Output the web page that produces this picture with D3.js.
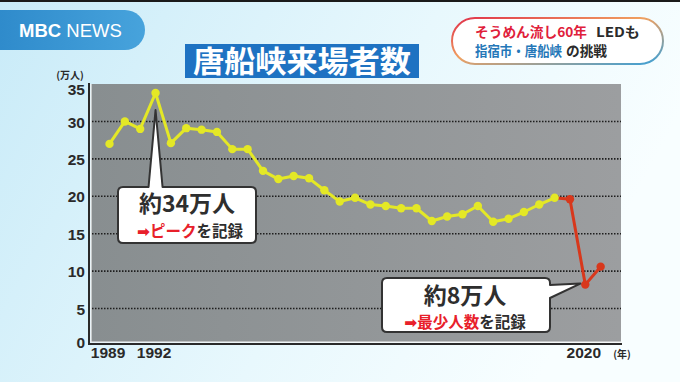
<!DOCTYPE html>
<html><head><meta charset="utf-8">
<script src="https://cdn.jsdelivr.net/npm/d3@7"></script>
<style>html,body{margin:0;padding:0;overflow:hidden;background:#e6f7fd}</style>
</head><body>
<svg id="c" width="680" height="382"></svg>
<script>
const years = d3.range(1989, 2022);
const visitors = [27.0, 30.0, 29.0, 33.8, 27.1, 29.1, 28.9, 28.6, 26.3, 26.3,
  23.4, 22.3, 22.7, 22.4, 20.8, 19.3, 19.8, 18.9, 18.7, 18.4,
  18.4, 16.7, 17.3, 17.6, 18.7, 16.6, 17.0, 17.9, 18.9, 19.8,
  19.6, 8.2, 10.6];
const yTicks = [0, 5, 10, 15, 20, 25, 30, 35];
const gridValues = [5, 10, 15, 20, 25, 30];
const xTickYears = [1989, 1992, 2020];
const redFrom = 2018;
const title = "唐船峡来場者数";
const peakLabel = ["約34万人", "ピーク"];
const lowLabel = ["約8万人", "最少人数"];

const data = years.map((y, i) => ({year: y, v: visitors[i]}));
const svg = d3.select("#c");
const defs = svg.append("defs");

// background
const bg = defs.append("linearGradient").attr("id", "bg").attr("x1", 0).attr("y1", 0).attr("x2", 1).attr("y2", 0.3);
bg.append("stop").attr("offset", 0).attr("stop-color", "#c9ebf8");
bg.append("stop").attr("offset", 0.6).attr("stop-color", "#e8f8fd");
bg.append("stop").attr("offset", 1).attr("stop-color", "#f8feff");
svg.append("rect").attr("width", 680).attr("height", 382).attr("fill", "url(#bg)");
svg.append("rect").attr("width", 680).attr("height", 2).attr("fill", "#1a1a1a");

// MBC pill
const pg = defs.append("linearGradient").attr("id", "pill").attr("x1", 0).attr("x2", 1);
pg.append("stop").attr("offset", 0).attr("stop-color", "#2a86c8");
pg.append("stop").attr("offset", 1).attr("stop-color", "#47a3dc");
svg.append("rect").attr("x", -30).attr("y", 10).attr("width", 175).attr("height", 40).attr("rx", 20).attr("fill", "url(#pill)");
const mbc = svg.append("text").attr("x", 19).attr("y", 37).attr("fill", "#fff")
  .attr("font-family", "Liberation Sans, Arial, sans-serif").attr("font-size", 18.5);
mbc.append("tspan").attr("font-weight", "bold").text("MBC ");
mbc.append("tspan").text("NEWS");

// top-right headline box
const bd = defs.append("linearGradient").attr("id", "bd").attr("x1", 0).attr("y1", 0).attr("x2", 1).attr("y2", 1);
bd.append("stop").attr("offset", 0).attr("stop-color", "#e0304a");
bd.append("stop").attr("offset", 0.45).attr("stop-color", "#f0a060");
bd.append("stop").attr("offset", 1).attr("stop-color", "#3aa0d8");
svg.append("rect").attr("x", 452).attr("y", 18).attr("width", 211).attr("height", 46).attr("rx", 23)
  .attr("fill", "#fff").attr("stroke", "url(#bd)").attr("stroke-width", 2);
const jp = "Noto Sans CJK JP, sans-serif";
function head(xx, yy, w, color, s) {
  svg.append("text").attr("x", xx).attr("y", yy).attr("font-family", jp).attr("font-weight", "bold")
    .attr("font-size", 13.5).attr("fill", color).attr("textLength", w).attr("lengthAdjust", "spacingAndGlyphs").text(s);
}
head(475, 36.5, 112, "#e0203a", "そうめん流し60年");
head(596, 36.5, 44, "#2b2b2b", "LEDも");
head(475, 56, 87, "#2477b8", "指宿市・唐船峡");
head(566, 56, 41, "#2b2b2b", "の挑戦");

// title
svg.append("rect").attr("x", 185).attr("y", 44).attr("width", 234).attr("height", 34).attr("fill", "#1e72c2");
svg.append("text").attr("x", 302).attr("y", 72).attr("text-anchor", "middle").attr("fill", "#fff")
  .attr("font-family", jp).attr("font-weight", "bold").attr("font-size", 30)
  .attr("textLength", 218).attr("lengthAdjust", "spacingAndGlyphs").text(title);

// scales
const x = d3.scaleLinear().domain([1989, 2020]).range([109.5, 585.3]);
const y = d3.scaleLinear().domain([0, 35]).range([346, 84]);
const plotL = 91, plotR = 621, plotT = y(35), plotB = 342;

// plot bg
const pb = defs.append("linearGradient").attr("id", "pb").attr("x1", 0).attr("x2", 1);
pb.append("stop").attr("offset", 0).attr("stop-color", "#888e90");
pb.append("stop").attr("offset", 1).attr("stop-color", "#9c9ea0");
svg.append("rect").attr("x", plotL).attr("y", plotT).attr("width", plotR - plotL).attr("height", plotB - plotT).attr("fill", "url(#pb)");

// grid
svg.append("g").selectAll("line").data(gridValues).join("line")
  .attr("x1", plotL + 1).attr("x2", plotR).attr("y1", d => y(d)).attr("y2", d => y(d))
  .attr("stroke", "#1e1e1e").attr("stroke-width", 1.6).attr("stroke-dasharray", "1.5,1.5");

// axis frame
svg.append("path").attr("d", `M${plotL - 2},${plotT - 1}V${plotB + 2}H${plotR + 1}`)
  .attr("fill", "none").attr("stroke", "#2a2a2a").attr("stroke-width", 2);
svg.append("path").attr("d", `M${plotL},${plotT}V${plotB}H${plotR + 1}`)
  .attr("fill", "none").attr("stroke", "#f4f4f4").attr("stroke-width", 1.2);

// y axis labels
const ya = svg.append("g").attr("transform", `translate(${plotL - 6},0)`)
  .call(d3.axisLeft(y).tickValues(yTicks).tickSize(0).tickPadding(0));
ya.select(".domain").remove();
ya.selectAll(".tick").filter(d => d === 0).attr("transform", `translate(0,${plotB})`);
ya.selectAll(".tick").filter(d => d === 35).attr("transform", `translate(0,${y(35) + 5})`);
ya.selectAll("text").attr("font-family", "Liberation Sans, Arial, sans-serif").attr("font-size", 15.5)
  .attr("font-weight", "bold").attr("fill", "#2a2a2a").attr("dy", "0.36em");
svg.append("text").attr("x", 70).attr("y", 79).attr("text-anchor", "middle").attr("font-family", jp)
  .attr("font-weight", "bold").attr("font-size", 10).attr("fill", "#2a2a2a").text("(万人)");

// x axis labels
const xa = svg.append("g").attr("transform", `translate(-2,${plotB})`)
  .call(d3.axisBottom(x).tickValues(xTickYears).tickFormat(d3.format("d")).tickSize(0).tickPadding(0));
xa.select(".domain").remove();
xa.selectAll("text").attr("font-family", "Liberation Sans, Arial, sans-serif").attr("font-size", 15.5)
  .attr("font-weight", "bold").attr("fill", "#2a2a2a").attr("dy", "1.0em");
svg.append("text").attr("x", 622).attr("y", 358).attr("text-anchor", "middle").attr("font-family", jp)
  .attr("font-weight", "bold").attr("font-size", 10).attr("fill", "#2a2a2a").text("(年)");

// lines
const line = d3.line().x(d => x(d.year)).y(d => y(d.v));
const yellowData = data.filter(d => d.year <= redFrom);
const redData = data.filter(d => d.year >= redFrom);
const YEL = "#e4e826", RED = "#d8381c";
svg.append("path").datum(redData).attr("d", line).attr("fill", "none").attr("stroke", RED).attr("stroke-width", 3).attr("stroke-linejoin", "round");
svg.append("path").datum(yellowData).attr("d", line).attr("fill", "none").attr("stroke", YEL).attr("stroke-width", 3).attr("stroke-linejoin", "round");
svg.append("g").selectAll("circle").data(data).join("circle")
  .attr("cx", d => x(d.year)).attr("cy", d => y(d.v)).attr("r", 4.2)
  .attr("fill", d => d.year > redFrom ? RED : YEL);

// callouts
const peak = data.reduce((a, b) => b.v > a.v ? b : a);
const low = data.reduce((a, b) => b.v < a.v ? b : a);
function txt(g, xx, yy, size, parts) {
  const t = g.append("text").attr("x", xx).attr("y", yy).attr("text-anchor", "middle")
    .attr("font-family", jp).attr("font-weight", "bold").attr("font-size", size).attr("fill", "#2e2e2e");
  parts.forEach(p => {
    const s = t.append("tspan").text(p.t);
    if (p.c) s.attr("fill", p.c);
    if (p.f) s.attr("font-family", p.f);
  });
  return t;
}
// peak box
{
  const px = x(peak.year), tipY = y(peak.v) + 17;
  const L = 118, R = 256, T = 187, B = 243, r = 5;
  const d = `M${L + r},${T}H${px - 7}L${px},${tipY}L${px + 7},${T}H${R - r}Q${R},${T} ${R},${T + r}V${B - r}Q${R},${B} ${R - r},${B}H${L + r}Q${L},${B} ${L},${B - r}V${T + r}Q${L},${T} ${L + r},${T}Z`;
  const g = svg.append("g");
  g.append("path").attr("d", d).attr("fill", "#fff").attr("stroke", "#333").attr("stroke-width", 2).attr("stroke-linejoin", "round");
  txt(g, 187, 212, 23, [{t: peakLabel[0]}]);
  txt(g, 190, 237, 15.5, [{t: "➡", c: "#e8202a", f: "DejaVu Sans"}, {t: peakLabel[1], c: "#e8202a"}, {t: "を記録"}]);
}
// low box
{
  const tipX = x(low.year) - 5, tipY = y(low.v) - 1;
  const L = 382, R = 550, T = 278, B = 332, r = 5;
  const d = `M${L + r},${T}H${R - r}Q${R},${T} ${R},${T + r}V${T + 7}L${tipX},${tipY}L${R},${T + 20}V${B - r}Q${R},${B} ${R - r},${B}H${L + r}Q${L},${B} ${L},${B - r}V${T + r}Q${L},${T} ${L + r},${T}Z`;
  const g = svg.append("g");
  g.append("path").attr("d", d).attr("fill", "#fff").attr("stroke", "#333").attr("stroke-width", 2).attr("stroke-linejoin", "round");
  txt(g, 465, 304, 23, [{t: lowLabel[0]}]);
  txt(g, 465, 328, 15.5, [{t: "➡", c: "#e8202a", f: "DejaVu Sans"}, {t: lowLabel[1], c: "#e8202a"}, {t: "を記録"}]);
}
</script>
</body></html>
